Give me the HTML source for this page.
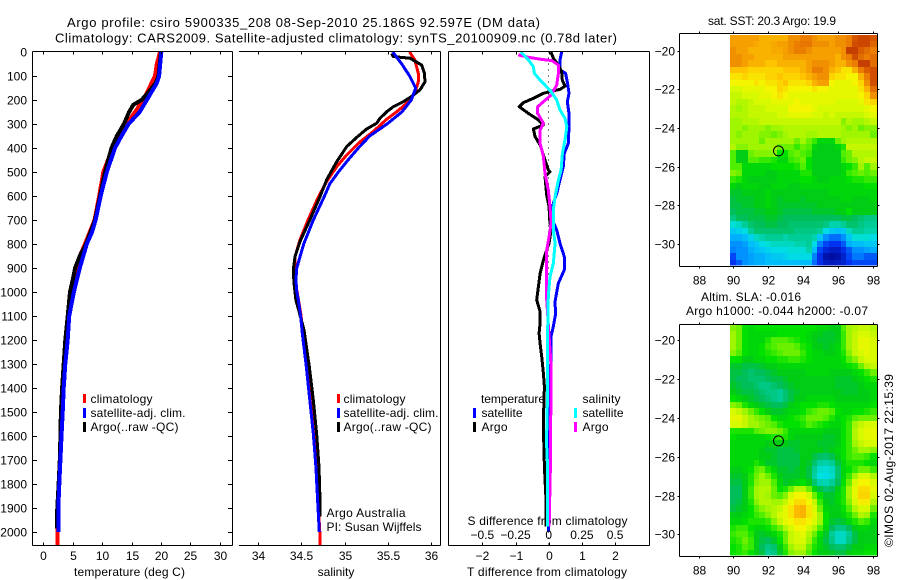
<!DOCTYPE html>
<html>
<head>
<meta charset="utf-8">
<title>Argo profile</title>
<style>
html,body{margin:0;padding:0;background:#fff;width:900px;height:580px;overflow:hidden}
svg{display:block}
text{font-family:"Liberation Sans",sans-serif;font-size:12px;fill:#000}
text.big{font-size:13px}
</style>
</head>
<body>
<svg id="figure" xmlns="http://www.w3.org/2000/svg" width="900" height="580" viewBox="0 0 900 580">
<text class="big" x="67" y="27" textLength="473">Argo profile: csiro 5900335_208 08-Sep-2010 25.186S 92.597E (DM data)</text>
<text class="big" x="55" y="42.5" textLength="562">Climatology: CARS2009. Satellite-adjusted climatology: synTS_20100909.nc (0.78d later)</text>
<text x="74" y="576" textLength="111">temperature (deg C)</text>
<text x="336" y="576" text-anchor="middle">salinity</text>
<text x="467" y="576" textLength="160">T difference from climatology</text>
<text x="467.5" y="525" textLength="160">S difference from climatology</text>
<text x="772" y="25" text-anchor="middle" textLength="128">sat. SST: 20.3 Argo: 19.9</text>
<text x="701" y="301" textLength="100">Altim. SLA: -0.016</text>
<text x="686" y="315" textLength="182">Argo h1000: -0.044 h2000: -0.07</text>
<text transform="translate(893,547) rotate(-90)" textLength="173">©IMOS 02-Aug-2017 22:15:39</text>
<text x="326.5" y="517" textLength="79">Argo Australia</text>
<text x="326.5" y="531" textLength="95">PI: Susan Wijffels</text>

<g>
<rect x="83" y="394" width="3" height="9" fill="#f00"/>
<text x="90.5" y="403" textLength="62">climatology</text>
<rect x="83" y="408" width="3" height="10" fill="#00f"/>
<text x="90.5" y="417" textLength="95">satellite-adj. clim.</text>
<rect x="83" y="422" width="3" height="10" fill="#000"/>
<text x="90.5" y="431" textLength="88">Argo(..raw -QC)</text>
</g>
<g>
<rect x="337" y="394" width="3" height="9" fill="#f00"/>
<text x="343.5" y="403" textLength="62">climatology</text>
<rect x="337" y="408" width="3" height="10" fill="#00f"/>
<text x="343.5" y="417" textLength="95">satellite-adj. clim.</text>
<rect x="337" y="422" width="3" height="10" fill="#000"/>
<text x="343.5" y="431" textLength="88">Argo(..raw -QC)</text>
</g>
<g>
<text x="481" y="403" textLength="64">temperature</text>
<rect x="473" y="408" width="3" height="10" fill="#00f"/>
<text x="481.5" y="417" textLength="41">satellite</text>
<rect x="473" y="422" width="3" height="10" fill="#000"/>
<text x="481.5" y="431" textLength="26">Argo</text>
<text x="582.5" y="403" textLength="38">salinity</text>
<rect x="574" y="408" width="3" height="10" fill="#0ff"/>
<text x="582.5" y="417" textLength="41">satellite</text>
<rect x="574" y="422" width="3" height="10" fill="#f0f"/>
<text x="582.5" y="431" textLength="26">Argo</text>
</g>
</svg>
<script>
// ---- axis tick data ----
const depthTicks = [0,100,200,300,400,500,600,700,800,900,1000,1100,1200,1300,1400,1500,1600,1700,1800,1900,2000];
const temperatureTicks = [0,5,10,15,20,25,30];
const salinityTicks = [34,34.5,35,35.5,36];
const tDiffTicks = [-2,-1,0,1,2];
const sDiffTicks = [-0.5,-0.25,0,0.25,0.5];
const lonTicks = [88,90,92,94,96,98];
const latTicks = [-20,-22,-24,-26,-28,-30];

// ---- temperature profiles (depth dbar, temperature deg C) ----
const tempClimDepth = [0,50,100,130,170,200,250,300,350,400,500,600,700,750,800,850,900,1000,1100,1200,1300,1400,1500,1600,1700,1800,1900,2000,2054];
const tempClimValues = [19.85,19.3,19,18.4,17.6,17,15.6,14.2,12.8,11.8,10.2,9.5,8.7,7.9,7.1,6.2,5.8,4.8,4.3,4.05,3.7,3.4,3.2,3,2.85,2.65,2.5,2.4,2.38];
const tempArgoDepth = [0,100,130,170,200,220,250,300,350,400,500,600,700,800,850,900,950,1000,1100,1200,1300,1400,1500,1600,1700,1800,1900,1950,1985];
const tempArgoValues = [20,19.6,19.1,17.8,16.7,15.3,14.6,13.7,12.5,11.6,10.5,9.64,8.8,7.26,6.2,5.4,5,4.54,4.15,3.75,3.47,3.2,3,2.9,2.8,2.6,2.38,2.3,2.3];
const tempSatDepth = [0,100,130,200,250,300,350,400,500,600,700,750,800,900,1000,1100,1200,1300,1400,1500,1600,1700,1800,1900,2000];
const tempSatValues = [20.07,19.7,19.3,17.6,16.4,14.5,13.3,12.2,10.8,9.76,8.9,8.3,7.4,6.2,5.2,4.4,4.15,3.75,3.47,3.3,3.1,2.9,2.72,2.55,2.55];

// ---- salinity profiles ----
const salClimDepth = [0,33,89,124,172,214,249,280,332,374,429,478,540,603,700,783,853,908,964,1033,1100,1172,1311,1450,1589,1728,1866,2000,2054];
const salClimValues = [35.75,35.81,35.85,35.85,35.81,35.715,35.6,35.486,35.33,35.18,35.025,34.91,34.794,34.7,34.58,34.487,34.43,34.43,34.437,34.47,34.5,34.52,34.565,34.605,34.645,34.675,34.695,34.715,34.715];
const salArgoDepth = [6,19,26,54,89,124,158,186,207,228,249,276,297,321,356,394,457,533,603,700,790,853,908,964,1033,1158,1311,1450,1589,1728,1866,1936];
const salArgoValues = [35.543,35.562,35.754,35.888,35.92,35.927,35.87,35.77,35.678,35.562,35.486,35.41,35.37,35.255,35.14,35.025,34.91,34.794,34.718,34.6,34.487,34.43,34.41,34.418,34.44,34.533,34.595,34.641,34.679,34.706,34.718,34.72];
const salSatDepth = [0,50,100,150,200,250,300,350,400,450,500,550,600,700,800,900,950,1000,1033,1102,1172,1311,1450,1589,1728,1866,2000];
const salSatValues = [35.555,35.66,35.75,35.82,35.77,35.66,35.49,35.29,35.16,35.04,34.93,34.83,34.77,34.64,34.53,34.45,34.44,34.45,34.468,34.495,34.514,34.56,34.6,34.64,34.67,34.69,34.71];

// ---- differences from climatology ----
const tDiffSatDepth = [0,33,75,89,131,172,207,256,311,381,422,478,533,589,631,700,742,797,853,908,964,1033,1047,1089,1144,1186,1297,1311,1450,1700,2000];
const tDiffSatValues = [0.39,0.34,0.34,0.51,0.57,0.61,0.56,0.61,0.61,0.59,0.47,0.44,0.34,0.24,0.14,0.11,0.24,0.34,0.47,0.47,0.29,0.2,0.19,0.21,0.14,0.07,0.07,0.04,0,0,0];
const tDiffArgoDepth = [0,26,54,82,117,142,156,163,172,193,211,228,256,283,304,321,353,387,429,492,499,519,596,644,714,728,797,825,867,922,978,1033,1082,1130,1172,1214,1269,1339,1394,1491,1616,1727,1866,1978];
const tDiffArgoValues = [0.07,0.14,0.29,0.39,0.41,0.49,0.34,0.09,-0.16,-0.46,-0.76,-0.89,-0.61,-0.31,-0.16,-0.46,-0.41,-0.26,-0.16,-0.01,0.04,-0.11,-0.06,0.01,0.04,0.09,0.01,-0.06,-0.16,-0.26,-0.31,-0.36,-0.26,-0.26,-0.29,-0.26,-0.21,-0.16,-0.13,-0.15,-0.15,-0.13,-0.08,-0.08];
const sDiffSatDepth = [0,33,61,89,117,138,165,200,242,276,311,367,422,492,533,603,658,742,797,881,936,1019,1172,1450,1589,1644,1727,1978];
const sDiffSatValues = [-0.209,-0.153,-0.116,-0.108,-0.065,-0.028,0.018,0.06,0.085,0.123,0.136,0.123,0.103,0.093,0.073,0.048,0.035,0.035,0.048,0.035,0.01,-0.003,-0.008,-0.01,-0.015,-0.015,-0.008,-0.008];
const sDiffArgoDepth = [12,22,31,36,54,89,138,179,207,228,256,297,325,381,436,506,575,644,714,769,825,881,1033,1241,1311,1727,1978];
const sDiffArgoValues = [-0.229,-0.153,-0.053,0.023,0.073,0.073,0.06,0.018,-0.04,-0.083,-0.083,-0.04,-0.065,-0.065,-0.04,-0.028,-0.003,0.01,0.018,0.003,-0.015,-0.015,-0.015,0.01,0.018,0.013,0.003];

// ---- map grids: colour-index values, rows north to south ----
const sstGrid = [
[86,86,86,86,86,84,84,84,84,84,88,88,90,90,88,86,86,86,88,88,90,95,97,97,95],
[86,86,86,86,85,84,84,85,86,86,88,90,91,91,88,88,88,86,88,88,90,96,97,97,93],
[88,86,86,84,84,84,84,85,85,86,88,90,90,88,86,86,86,86,86,88,98,98,94,92,90],
[88,88,86,86,84,84,84,84,84,86,86,86,86,86,86,86,86,86,84,88,90,96,92,90,92],
[88,88,86,84,84,84,82,82,84,84,84,84,84,86,88,88,88,86,84,84,88,90,98,98,92],
[82,82,82,80,80,80,80,80,80,82,82,82,84,86,90,90,88,84,82,78,78,84,90,94,96],
[78,78,80,78,78,78,80,80,82,80,80,80,82,84,86,88,88,80,78,78,76,76,84,90,96],
[76,76,76,76,78,76,78,78,80,82,78,78,78,80,84,86,86,76,74,74,74,76,80,88,96],
[72,72,74,74,74,74,76,76,80,78,76,76,76,76,78,76,76,74,74,74,74,74,78,84,92],
[70,70,72,72,72,74,74,76,78,76,74,74,74,74,74,74,74,74,74,74,74,74,76,80,88],
[70,68,68,70,72,72,72,74,74,74,74,76,74,74,74,74,74,74,72,72,72,72,74,78,80],
[68,66,68,70,70,70,72,72,72,72,76,76,76,76,74,72,72,72,72,72,72,72,72,74,76],
[68,68,68,70,70,70,70,70,72,72,74,74,74,74,72,72,70,72,70,70,70,70,70,72,74],
[66,66,68,68,68,70,70,70,70,70,70,70,70,70,70,70,70,70,70,64,68,66,66,68,70],
[66,66,64,66,66,66,64,66,66,68,68,68,68,68,68,68,68,68,68,66,64,66,62,64,64],
[66,64,66,66,66,64,64,62,64,66,68,68,68,66,66,68,68,68,68,66,66,66,66,66,62],
[66,66,66,66,66,62,66,66,66,66,66,62,66,62,58,52,52,52,62,66,68,68,68,68,68],
[68,64,64,66,66,66,66,66,62,62,62,58,62,60,52,50,50,50,52,56,70,70,70,70,70],
[60,50,50,62,64,64,64,64,54,54,60,62,60,58,50,50,50,50,50,60,62,68,68,68,68],
[60,50,50,60,60,58,58,56,52,52,58,60,62,54,50,50,50,50,50,58,62,64,68,70,70],
[60,60,52,52,52,52,52,54,54,54,54,56,60,54,50,50,50,50,50,52,54,58,66,60,66],
[64,62,52,52,52,52,50,50,52,52,52,52,56,56,50,50,50,50,50,52,58,60,62,60,62],
[58,56,52,50,50,50,50,50,52,52,52,52,54,54,52,50,50,52,52,52,54,56,56,58,58],
[52,50,52,52,52,50,50,52,52,52,50,50,52,52,52,52,52,52,52,52,52,52,52,54,54],
[48,48,50,50,50,50,52,50,50,50,50,50,50,50,50,50,50,52,52,52,52,52,52,52,52],
[46,48,48,48,50,50,52,50,48,50,50,50,48,50,50,50,50,50,50,52,52,50,50,50,52],
[46,46,48,48,50,50,52,50,48,48,48,48,48,48,48,50,50,50,50,50,50,50,50,50,50],
[44,46,46,46,48,48,50,50,48,46,46,46,46,46,48,48,48,48,50,50,54,50,50,50,50],
[40,44,44,46,46,46,48,48,46,44,44,44,44,44,44,44,44,44,44,46,46,44,42,40,40],
[32,34,38,42,44,44,46,46,44,44,42,42,42,42,42,42,40,36,36,38,42,42,40,38,38],
[26,28,30,38,42,42,42,42,42,42,42,40,40,40,40,38,30,26,24,26,34,38,38,36,36],
[22,22,24,28,34,36,38,38,38,36,38,38,38,38,36,26,18,14,14,18,26,32,32,32,30],
[18,18,20,24,26,30,32,34,34,34,34,36,36,38,30,16,10,8,8,12,22,24,24,26,26],
[16,18,18,22,24,26,28,30,30,30,32,32,32,36,24,10,6,4,4,7,12,18,18,20,22],
[10,18,18,20,22,22,24,26,26,28,30,30,30,30,16,7,2,1,2,5,10,15,15,12,12],
[8,12,18,20,22,22,24,24,24,24,24,24,24,24,14,7,4,3,4,5,8,10,10,10,10]
];
const slaGrid = [
[64,62,54,52,54,54,54,54,54,54,54,54,54,54,54,52,52,50,50,60,66,68,70,70,68],
[66,62,54,52,52,52,52,52,54,54,54,54,54,52,50,50,48,48,50,58,66,70,72,72,70],
[66,62,54,52,52,52,56,60,60,60,58,56,54,52,50,48,48,48,50,58,66,70,74,74,72],
[66,62,54,52,52,54,58,60,62,62,62,60,56,54,50,50,48,50,52,58,66,70,74,74,72],
[64,60,54,52,52,54,56,58,60,62,62,62,58,54,52,52,50,50,52,56,64,70,72,74,72],
[54,54,50,50,52,52,54,54,56,56,58,58,56,54,52,52,52,52,52,54,60,64,70,72,72],
[48,48,46,46,46,48,50,50,52,52,52,52,52,52,52,52,52,52,52,52,54,56,62,68,70],
[46,46,44,42,44,44,46,48,50,50,50,50,50,52,52,52,52,50,50,50,50,52,54,58,62],
[46,44,44,42,42,42,44,46,46,48,50,50,50,50,50,50,50,50,48,48,48,50,52,54,56],
[48,46,44,44,42,40,40,42,44,46,48,50,50,50,50,50,50,50,48,48,48,48,50,52,52],
[50,48,46,46,44,42,40,40,38,42,46,48,50,50,50,50,50,50,50,48,48,48,50,50,52],
[54,52,50,48,46,44,42,40,38,42,46,50,50,52,52,52,52,52,50,50,50,50,50,50,52],
[64,62,56,52,50,48,46,44,44,46,50,52,54,54,54,56,56,54,52,52,52,52,52,52,54],
[72,70,66,62,58,54,50,48,48,50,52,52,54,58,60,62,62,60,54,52,52,54,54,56,58],
[74,74,70,66,64,62,60,54,52,52,54,56,58,62,62,62,60,56,52,54,56,60,62,62,62],
[72,72,70,66,66,64,62,60,56,54,54,54,56,60,58,56,54,52,52,54,58,66,70,72,72],
[56,56,56,56,60,62,64,64,62,58,52,52,52,52,52,52,50,50,50,54,58,68,72,74,74],
[54,52,52,52,52,52,54,56,58,56,52,50,50,50,50,50,48,48,50,54,58,68,72,74,74],
[52,52,52,52,52,52,50,50,50,50,48,48,50,50,50,48,48,48,50,54,58,66,70,72,72],
[52,52,52,52,52,50,48,48,46,46,46,48,50,50,50,50,48,50,52,54,58,62,66,66,64],
[52,52,52,52,52,50,50,48,46,46,46,46,50,50,46,43,42,45,50,54,58,60,60,58,54],
[52,52,52,52,56,52,48,48,46,46,46,46,50,48,42,37,36,38,46,52,56,56,56,54,52],
[50,50,52,54,60,62,56,52,48,48,46,48,50,46,38,33,32,34,42,52,54,58,62,62,58],
[48,48,50,56,62,66,62,56,50,48,48,48,50,46,37,31,30,33,42,52,58,66,72,72,68],
[46,46,50,56,64,66,66,60,52,48,50,52,54,50,42,36,35,38,44,54,62,72,76,76,72],
[44,44,50,58,66,68,68,62,54,56,62,68,68,62,52,46,42,44,50,56,66,74,79,79,74],
[44,44,50,58,66,68,66,62,60,64,72,76,76,72,62,54,48,48,52,56,66,74,80,80,72],
[44,46,50,56,64,68,68,66,66,70,75,79,79,76,70,58,50,48,52,56,64,72,77,77,68],
[46,48,50,54,60,64,66,68,70,74,78,83,84,78,72,62,52,50,50,54,60,68,72,72,62],
[50,50,52,54,58,60,64,68,72,74,78,83,84,78,74,66,54,50,50,52,56,62,68,66,56],
[52,52,54,56,56,56,58,64,70,74,76,78,78,76,72,66,54,48,46,48,52,56,60,58,52],
[56,58,58,54,52,52,54,58,62,68,72,76,76,72,68,60,52,44,40,40,44,50,52,52,50],
[58,60,60,56,50,48,50,52,56,62,70,72,74,68,62,54,48,38,34,34,38,46,50,50,50],
[56,58,62,58,50,46,44,48,54,62,70,72,72,66,58,52,46,40,34,34,40,46,50,50,50],
[54,56,60,58,50,44,40,42,50,58,66,70,70,62,56,52,48,44,42,42,46,50,50,52,52],
[54,56,58,54,50,46,38,40,48,56,64,66,66,60,54,50,50,48,46,46,50,52,52,54,54]
];
const profileLon = 92.597;
const profileLat = -25.186;

// ---- scales ----
const PT = 51.5, PB = 545.5;
function yDepth(d){ return 52 + 0.24*d; }
function xTemp(t){ return 43.3 + 5.88*t; }
function xSal(s){ return 257.7 + 86.8*(s-34); }
function xTDiff(v){ return 548.7 + 33.2*v; }
function xSDiff(v){ return 548.7 + 132.8*v; }
function xLon(lon){ return 733.3 + 17.4*(lon-90); }
function yLatSst(lat){ return 50.7 + 19.32*(-20-lat); }
function yLatSla(lat){ return 340.3 + 19.4*(-20-lat); }

const svg = document.getElementById('figure');
const NS = 'http://www.w3.org/2000/svg';
function mk(tag, attrs, parent){
  const el = document.createElementNS(NS, tag);
  for (const k in attrs) el.setAttribute(k, attrs[k]);
  (parent || svg).appendChild(el);
  return el;
}
function hline(x1,x2,y,name){
  const el = mk('line',{x1:x1,x2:x2,y1:y,y2:y,stroke:'#000','stroke-width':1,'shape-rendering':'crispEdges'});
  
  
}
function vline(x,y1,y2,name){
  const el = mk('line',{x1:x,x2:x,y1:y1,y2:y2,stroke:'#000','stroke-width':1,'shape-rendering':'crispEdges'});
  
  
}
function label(x,y,str,anchor,name){
  const el = mk('text',{x:x,y:y,'text-anchor':anchor});
  el.textContent = str;
  
  
}
function series(xs,ds,xf,color,width,name){
  const pts = ds.map((d,i)=>xf(xs[i]).toFixed(1)+','+yDepth(d).toFixed(1)).join(' ');
  const el = mk('polyline',{points:pts,fill:'none',stroke:color,'stroke-width':width,'stroke-linejoin':'round','shape-rendering':'crispEdges'});
  
  
}
function minus(v){ return String(v).replace('-', '\u2212'); }

// ---- maps ----
const colorStops = [[0,0,10,150],[8,0,50,240],[16,0,130,255],[24,0,190,250],[31,0,225,225],[38,0,205,150],[44,0,190,90],[50,0,205,20],[54,0,225,0],[60,80,238,0],[66,160,245,0],[72,215,250,0],[76,245,245,0],[82,255,195,0],[90,235,125,0],[97,205,70,0],[100,180,50,0]];
function cellColor(v){
  for (let i=1;i<colorStops.length;i++){
    if (v<=colorStops[i][0]){
      const a=colorStops[i-1], b=colorStops[i], t=(v-a[0])/(b[0]-a[0]);
      return 'rgb('+[1,2,3].map(k=>Math.round(a[k]+(b[k]-a[k])*t)).join(',')+')';
    }
  }
  return 'rgb(180,50,0)';
}
function drawMap(grid,yLat,top,bottom,name){
  const left=679.5, right=877.5;
  const g = mk('g',{});
  
  
  grid.forEach((row,r)=>{
    const lat = -19.33 - r/3;
    row.forEach((v,c)=>{
      const lon = 90 + c/3;
      const x0 = Math.round(xLon(lon-1/6));
      const x1 = c===row.length-1 ? right : Math.round(xLon(lon+1/6));
      const y0 = Math.max(top,Math.round(yLat(lat+1/6)));
      const y1 = r===grid.length-1 ? bottom-1 : Math.round(yLat(lat-1/6));
      mk('rect',{x:x0,y:y0,width:x1-x0,height:y1-y0,fill:cellColor(v),'shape-rendering':'crispEdges'},g);
    });
  });
  const mark = mk('circle',{cx:xLon(profileLon),cy:yLat(profileLat),r:5,fill:'none',stroke:'#000','stroke-width':1});
  
  
  hline(left,right,top,'map-top-axis');
  hline(left,right,bottom,'map-bottom-axis');
  vline(left,top,bottom,'map-left-axis');
  vline(right,top,bottom,'map-right-axis');
  latTicks.forEach(t=>{
    const y = Math.round(yLat(t))+0.5;
    hline(left-2,left,y,'map-lat-tick');
    hline(right,right+2,y,'map-lat-tick');
    label(675,y+4,minus(t),'end','map-lat-label');
  });
  lonTicks.forEach(t=>{
    const x = Math.round(xLon(t))+0.5;
    vline(x,top-2,top,'map-lon-tick');
    vline(x,bottom,bottom+2,'map-lon-tick');
    label(x,bottom+18,String(t),'middle','map-lon-label');
  });
}
drawMap(sstGrid,yLatSst,33.5,266.5,'sst-map');
drawMap(slaGrid,yLatSla,324.5,556.5,'sla-map');

// ---- zero line in difference panel ----
const zero = mk('line',{x1:xTDiff(0),x2:xTDiff(0),y1:PT,y2:yDepth(2054),stroke:'#000','stroke-width':1,'stroke-dasharray':'1 5','shape-rendering':'crispEdges'});



// ---- profile lines ----
series(tempClimValues,tempClimDepth,xTemp,'#f00',4,'temperature-climatology-line');
series(tempArgoValues,tempArgoDepth,xTemp,'#000',4,'temperature-argo-line');
series(tempSatValues,tempSatDepth,xTemp,'#00f',4,'temperature-satellite-line');
series(salClimValues,salClimDepth,xSal,'#f00',3,'salinity-climatology-line');
series(salArgoValues,salArgoDepth,xSal,'#000',3,'salinity-argo-line');
series(salSatValues,salSatDepth,xSal,'#00f',3,'salinity-satellite-line');
series(tDiffSatValues,tDiffSatDepth,xTDiff,'#00f',3,'t-diff-satellite-line');
series(tDiffArgoValues,tDiffArgoDepth,xTDiff,'#000',3,'t-diff-argo-line');
series(sDiffArgoValues,sDiffArgoDepth,xSDiff,'#f0f',3,'s-diff-argo-line');
series(sDiffSatValues,sDiffSatDepth,xSDiff,'#0ff',3,'s-diff-satellite-line');

// ---- panel frames ----
hline(32.5,232.5,PT,'temperature-top-axis');
hline(32.5,232.5,PB,'temperature-bottom-axis');
vline(32.5,PT,PB,'temperature-left-axis');
vline(232.5,PT,PB,'temperature-right-axis');
hline(239,440.5,PT,'salinity-top-axis');
hline(239,440.5,PB,'salinity-bottom-axis');
vline(440.5,PT,PB,'salinity-right-axis');
hline(448.5,649.5,PT,'difference-top-axis');
hline(448.5,649.5,PB,'difference-bottom-axis');
vline(448.5,PT,PB,'difference-left-axis');
vline(649.5,PT,PB,'difference-right-axis');

// ---- depth ticks ----
depthTicks.forEach(d=>{
  const y = Math.round(yDepth(d))+0.5;
  if (d>0) hline(32.5,37,y,'depth-tick');
  if (d>0) hline(228,232.5,y,'depth-tick');
  label(27,y+4,String(d),'end','depth-label');
});
// ---- x ticks ----
temperatureTicks.forEach(t=>{
  const x = Math.round(xTemp(t))+0.5;
  vline(x,PT,PT+3,'temperature-tick');
  vline(x,PB-3,PB,'temperature-tick');
  label(x,560,String(t),'middle','temperature-label');
});
salinityTicks.forEach(t=>{
  const x = Math.round(xSal(t))+0.5;
  vline(x,PT,PT+3,'salinity-tick');
  vline(x,PB-3,PB,'salinity-tick');
  label(x,560,String(t),'middle','salinity-label');
});
tDiffTicks.forEach(t=>{
  const x = Math.round(xTDiff(t))+0.5;
  vline(x,PT,PT+3,'t-diff-tick');
  vline(x,PB-3,PB,'t-diff-tick');
  label(x,560,minus(t),'middle','t-diff-label');
});
sDiffTicks.forEach(t=>{
  label(xSDiff(t),539,minus(t),'middle','s-diff-label');
});
</script>
</body>
</html>
